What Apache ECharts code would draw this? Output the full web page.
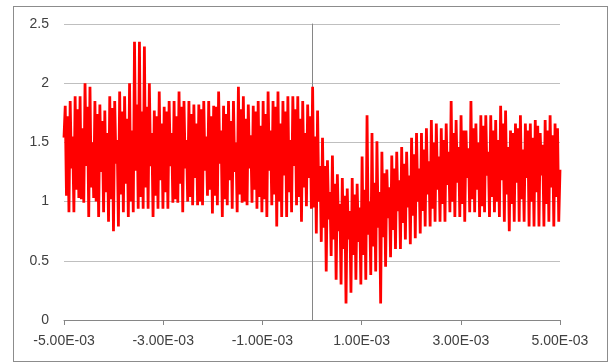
<!DOCTYPE html>
<html><head><meta charset="utf-8">
<script src="https://cdn.jsdelivr.net/npm/echarts@6/dist/echarts.min.js"></script>
<style>
html,body{margin:0;padding:0;background:#fff;}
#wrap{position:relative;width:612px;height:363px;}
#chart{position:absolute;left:0;top:0;width:612px;height:363px;}
#frame{position:absolute;left:13px;top:6px;width:593px;height:354px;border:1px solid #8c8c8c;pointer-events:none;}
</style></head><body>
<div id="wrap"><div id="frame"></div><div id="chart"></div></div>
<script>
// tick labels
const xTickLabels = ['-5.00E-03','-3.00E-03','-1.00E-03','1.00E-03','3.00E-03','5.00E-03'];
const yTickLabels = ['0','0.5','1','1.5','2','2.5'];

// signal, one entry per oscillation cycle (100 cycles across the span)
const peaks = [
  1.81,1.85,1.89,1.89,2.00,1.97,1.85,1.82,1.77,1.89,1.85,1.93,1.89,2.00,2.35,2.35,2.31,2.00,1.77,1.93,
  1.80,1.85,1.85,1.93,1.85,1.85,1.82,1.82,1.85,1.85,1.81,1.93,1.81,1.85,1.85,1.97,1.89,1.82,1.81,1.85,
  1.85,1.93,1.85,1.93,1.85,1.89,1.89,1.89,1.85,1.82,1.97,1.77,1.54,1.35,1.39,1.23,1.20,1.11,1.20,1.15,
  1.38,1.73,1.58,1.51,1.42,1.27,1.39,1.42,1.46,1.42,1.54,1.58,1.58,1.62,1.69,1.66,1.62,1.66,1.85,1.69,
  1.73,1.60,1.85,1.66,1.73,1.73,1.73,1.69,1.81,1.77,1.60,1.66,1.73,1.66,1.66,1.69,1.58,1.69,1.73,1.66
];
const midLows = [
  1.05,1.28,1.10,1.02,1.30,1.12,1.00,1.25,1.08,1.02,1.32,1.06,1.15,1.00,1.26,1.04,1.12,1.30,1.05,1.18,
  1.08,1.30,1.02,1.15,1.28,1.04,1.20,1.00,1.26,1.10,1.05,1.32,1.02,1.18,1.25,1.06,1.00,1.28,1.10,1.04,
  1.02,1.26,1.06,1.00,1.22,1.08,1.30,1.04,1.12,1.20,0.95,1.00,0.78,0.85,0.68,0.75,0.60,0.68,0.55,0.66,
  0.55,0.72,0.62,0.78,0.70,0.86,0.76,0.92,0.82,0.95,0.88,1.00,0.92,1.06,0.94,1.10,0.98,1.14,1.00,1.16,
  0.98,1.20,1.02,1.10,0.96,1.22,1.04,1.00,1.18,1.06,0.98,1.16,1.02,1.20,1.00,1.08,1.22,0.98,1.12,1.04
];
const midHighs = [
  1.72,1.55,1.78,1.62,1.80,1.50,1.74,1.68,1.58,1.79,1.52,1.76,1.70,1.60,1.82,1.76,1.80,1.58,1.72,1.66,
  1.76,1.58,1.72,1.80,1.52,1.74,1.66,1.78,1.55,1.72,1.80,1.60,1.74,1.68,1.50,1.78,1.70,1.56,1.76,1.64,
  1.74,1.60,1.80,1.66,1.76,1.52,1.78,1.70,1.58,1.72,1.55,1.30,1.30,1.08,1.15,0.98,1.05,0.92,1.06,0.95,
  1.10,1.00,1.16,1.08,1.24,1.12,1.28,1.18,1.32,1.22,1.40,1.28,1.44,1.34,1.50,1.38,1.52,1.42,1.58,1.46,
  1.60,1.45,1.62,1.50,1.64,1.42,1.60,1.52,1.66,1.46,1.58,1.62,1.44,1.60,1.54,1.64,1.48,1.60,1.56,1.62
];
const troughs = [
  0.91,0.91,1.03,0.99,0.87,1.03,0.87,0.91,0.83,0.75,0.79,0.91,0.87,0.91,0.94,0.94,0.94,0.87,0.94,0.94,
  0.94,0.99,0.99,0.91,1.00,0.97,0.97,0.97,1.05,0.90,0.97,0.87,0.97,0.94,0.91,0.99,0.97,0.99,0.94,0.91,
  0.87,0.97,0.79,0.87,0.87,0.91,0.97,0.83,0.96,0.94,0.73,0.66,0.41,0.54,0.34,0.30,0.14,0.23,0.34,0.30,
  0.34,0.38,0.41,0.14,0.45,0.53,0.60,0.60,0.68,0.64,0.69,0.73,0.79,0.79,0.83,0.83,0.83,0.91,0.87,0.87,
  0.83,0.91,0.91,0.87,0.91,0.87,0.91,0.87,0.83,0.75,0.83,0.83,0.83,0.79,0.79,0.79,0.79,0.83,0.79,0.83
];
const startValue = 1.54;
const endValue = 1.27;

// assemble the sample sequence (peak, low, high, trough per cycle)
const values = [startValue];
for (let k = 0; k < peaks.length; k++) {
  values.push(peaks[k], midLows[k], midHighs[k], troughs[k]);
}
values.push(endValue);
const N = values.length;
// x in axis units: 0..10 corresponds to -5.00E-03 .. 5.00E-03 (uniform sampling)
const seriesData = values.map((v, i) => [i * 10 / (N - 1), v]);

const chart = echarts.init(document.getElementById('chart'), null, {renderer: 'canvas'});
const textStyle = {color: '#404040', fontFamily: 'Liberation Sans, Arial, sans-serif', fontSize: 14};
chart.setOption({
  animation: false,
  backgroundColor: 'transparent',
  grid: {left: 64, right: 52, top: 24, bottom: 43, containLabel: false},
  xAxis: [
    {
      type: 'value', min: 0, max: 10, interval: 2,
      axisLine: {show: true, onZero: false, lineStyle: {color: '#868686', width: 1}},
      axisTick: {show: true, length: 5, lineStyle: {color: '#868686'}},
      splitLine: {show: false},
      axisLabel: Object.assign({margin: 14, formatter: v => xTickLabels[Math.round(v / 2)]}, textStyle)
    },
    {
      // helper axis in real units (x1000) so the vertical axis line can sit at x = 0
      type: 'value', min: -5, max: 5, show: false
    }
  ],
  yAxis: [
    {
      type: 'value', min: 0, max: 2.5, interval: 0.5, position: 'left',
      axisLine: {show: false, onZero: false},
      axisTick: {show: false},
      splitLine: {show: true, lineStyle: {color: '#bfbfbf', width: 1}},
      axisLabel: Object.assign({margin: 15, formatter: v => yTickLabels[Math.round(v / 0.5)]}, textStyle)
    },
    {
      type: 'value', min: 0, max: 2.5, interval: 0.5, position: 'left',
      axisLine: {show: true, onZero: true, onZeroAxisIndex: 1, lineStyle: {color: '#868686', width: 1}},
      axisTick: {show: false},
      axisLabel: {show: false},
      splitLine: {show: false}
    }
  ],
  series: [
    {
      type: 'line', data: seriesData, z: 2, xAxisIndex: 0, yAxisIndex: 0,
      showSymbol: false, symbol: 'none', smooth: false,
      lineStyle: {color: '#ff0000', width: 2.8, join: 'miter'},
      itemStyle: {color: '#ff0000'}
    }
  ]
});
</script>
</body></html>
